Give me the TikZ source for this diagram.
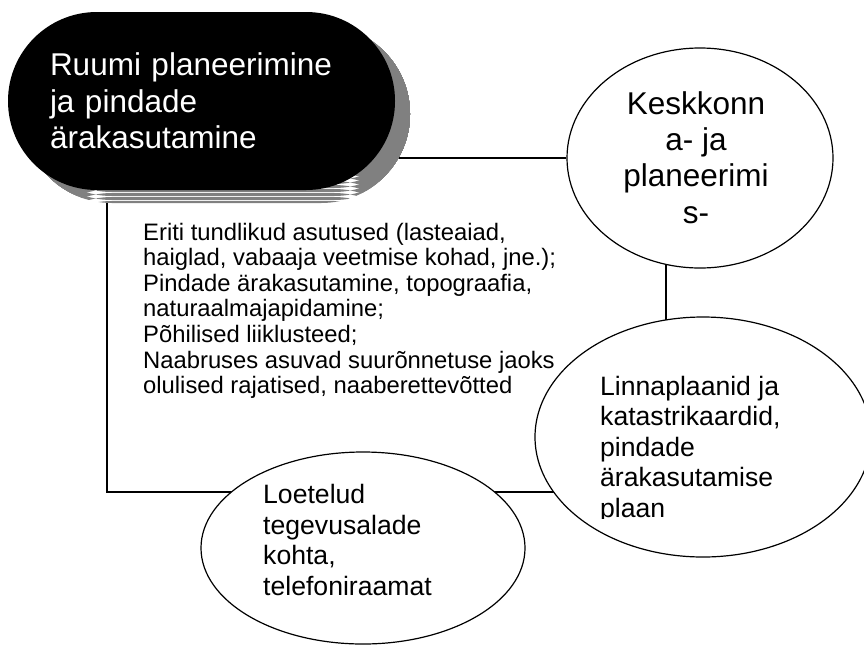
\documentclass[tikz,border=0pt]{standalone}
\usepackage{fontspec}
\setmainfont{Liberation Sans}
\usetikzlibrary{shapes.geometric}

\pgfdeclarelayer{bg}
\pgfdeclarelayer{shade}
\pgfsetlayers{bg,shade,main}

\tikzset{
  darkbox/.style={rectangle, fill=black, text=white, minimum width=387pt,
    minimum height=178pt, rounded corners=88.9pt, inner sep=0pt,
    text width=303pt, align=left, font=\fontsize{31.5}{36.5}\selectfont},
  stripeshadow/.style={rectangle, minimum width=387pt, minimum height=178pt,
    rounded corners=88.9pt, inner sep=0pt, fill=white,
    path picture={
      \foreach \k in {0,...,50}
        \fill [gray] ([yshift=-4pt*\k]path picture bounding box.north west)
          rectangle ++(400pt,-3pt);
    }},
  bubble/.style={ellipse, draw, fill=white, line width=1.2pt, inner sep=0pt},
  bigtext/.style={inner sep=0pt, align=center, font=\fontsize{31.5}{36.3}\selectfont},
  midtext/.style={inner sep=0pt, align=left, font=\fontsize{26.6}{30.4}\selectfont},
  smalltext/.style={inner sep=0pt, align=left, font=\fontsize{23.8}{25.6}\selectfont},
  link/.style={draw, line width=1.1pt}
}

\begin{document}
\begin{tikzpicture}[x=1pt, y=-1pt]
    \useasboundingbox (0,0) rectangle (864,646);

    % Place nodes
    % Main box
    \node [darkbox] (ruumi) at (201.5,101) {Ruumi planeerimine\\ja pindade\\ärakasutamine};

    % Bubbles
    \node [bubble, minimum width=266pt, minimum height=220pt] (kesk) at (700,158) {};
    \node [bubble, minimum width=336pt, minimum height=240pt] (linna) at (703,437) {};
    \node [bubble, minimum width=324pt, minimum height=192pt] (loetelud) at (363,548) {};

    % Texts (anchored at the last baseline)
    \node [bigtext, anchor=base] (keskText) at (696,223) {Keskkonn\\a- ja\\planeerimi\\s-};
    \begin{scope}
        \clip (530,300) rectangle (864,518);
        \node [midtext, anchor=base west] (linnaText) at (600,517)
            {Linnaplaanid ja\\katastrikaardid,\\pindade\\ärakasutamise\\plaan};
    \end{scope}
    \node [midtext, anchor=base west] (loeteludText) at (263,595)
        {Loetelud\\tegevusalade\\kohta,\\telefoniraamat};
    \node [smalltext, anchor=base west] (list) at (143,393.6)
        {Eriti tundlikud asutused (lasteaiad,\\
         haiglad, vabaaja veetmise kohad, jne.);\\
         Pindade ärakasutamine, topograafia,\\
         naturaalmajapidamine;\\
         Põhilised liiklusteed;\\
         Naabruses asuvad suurõnnetuse jaoks\\
         olulised rajatised, naaberettevõtted};

    % Shadow
    \begin{pgfonlayer}{shade}
        \node [stripeshadow] (ruumiShadow) at ([xshift=15pt, yshift=-13pt]ruumi.center) {};
    \end{pgfonlayer}

    % Draw edges
    \coordinate (corner) at (107,492);
    \coordinate (drop) at (666,0);
    \begin{pgfonlayer}{bg}
        \path [link] (ruumi.center |- kesk.west) -- (kesk.west);
        \path [link] (drop |- kesk.center) -- (drop |- linna.center);
        \path [link] (ruumi.center -| corner) -- (corner) -- (corner -| linna.center);
    \end{pgfonlayer}

\end{tikzpicture}
\end{document}
